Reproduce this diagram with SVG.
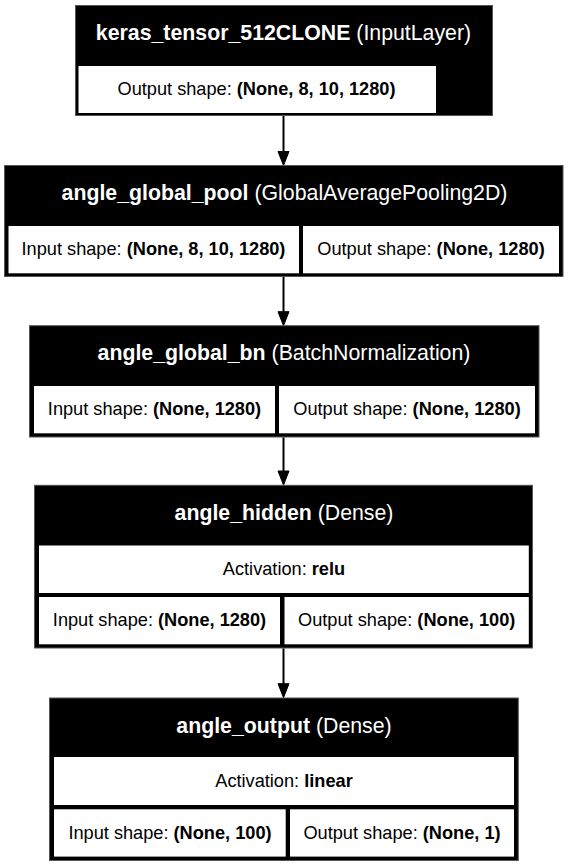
<svg xmlns="http://www.w3.org/2000/svg" width="568" height="867" viewBox="0 0 568 867">
<style>
.box{fill:#000;stroke:#555;stroke-width:1}
.cell{fill:#fff}
.title{font-family:"Liberation Sans",Arial,sans-serif;font-size:21.3px;fill:#fff;text-anchor:middle}
.body{font-family:"Liberation Sans",Arial,sans-serif;font-size:18.2px;fill:#000;text-anchor:middle}
.b{font-weight:bold}
.edge{stroke:#000;stroke-width:2;fill:none}
.head{fill:#000;stroke:#000;stroke-width:1}
</style>
<rect width="568" height="867" fill="#fff"/>
<g id="connectors">
<line class="edge" x1="283.5" y1="116" x2="283.5" y2="152"/>
<polygon class="head" points="278,151.5 289,151.5 283.5,165.5"/>
<line class="edge" x1="283.5" y1="277" x2="283.5" y2="312"/>
<polygon class="head" points="278,311.7 289,311.7 283.5,325.7"/>
<line class="edge" x1="283.5" y1="437.3" x2="283.5" y2="471.5"/>
<polygon class="head" points="278,471 289,471 283.5,485"/>
<line class="edge" x1="283.5" y1="648.3" x2="283.5" y2="684"/>
<polygon class="head" points="278,683.7 289,683.7 283.5,697.7"/>
</g>
<g id="node1">
<rect class="box" x="75.5" y="5.5" width="417" height="110"/>
<rect class="cell" x="78.5" y="66" width="357.5" height="47"/>
<text class="title" x="283.5" y="39.5"><tspan class="b">keras_tensor_512CLONE</tspan> (InputLayer)</text>
<text class="body" x="256.5" y="95">Output shape: <tspan class="b">(None, 8, 10, 1280)</tspan></text>
</g>
<g id="node2">
<rect class="box" x="4.5" y="165.5" width="558.5" height="111"/>
<rect class="cell" x="8.5" y="226" width="290.5" height="47.3"/>
<rect class="cell" x="303" y="226" width="256" height="47.3"/>
<text class="title" x="284.5" y="200"><tspan class="b">angle_global_pool</tspan> (GlobalAveragePooling2D)</text>
<text class="body" x="153.5" y="255.2">Input shape: <tspan class="b">(None, 8, 10, 1280)</tspan></text>
<text class="body" x="431" y="255.2">Output shape: <tspan class="b">(None, 1280)</tspan></text>
</g>
<g id="node3">
<rect class="box" x="29.5" y="325.7" width="509.5" height="111.3"/>
<rect class="cell" x="34" y="386" width="241" height="47.3"/>
<rect class="cell" x="279" y="386" width="256" height="47.3"/>
<text class="title" x="284" y="360.2"><tspan class="b">angle_global_bn</tspan> (BatchNormalization)</text>
<text class="body" x="154.5" y="415.2">Input shape: <tspan class="b">(None, 1280)</tspan></text>
<text class="body" x="407" y="415.2">Output shape: <tspan class="b">(None, 1280)</tspan></text>
</g>
<g id="node4">
<rect class="box" x="34.5" y="485.3" width="498" height="162.7"/>
<rect class="cell" x="39" y="545.5" width="489.8" height="47.5"/>
<rect class="cell" x="39" y="597" width="241" height="47.3"/>
<rect class="cell" x="284.5" y="597" width="244.3" height="47.3"/>
<text class="title" x="284" y="519.8"><tspan class="b">angle_hidden</tspan> (Dense)</text>
<text class="body" x="284" y="574.8">Activation: <tspan class="b">relu</tspan></text>
<text class="body" x="159.5" y="626.2">Input shape: <tspan class="b">(None, 1280)</tspan></text>
<text class="body" x="406.7" y="626.2">Output shape: <tspan class="b">(None, 100)</tspan></text>
</g>
<g id="node5">
<rect class="box" x="49.5" y="698" width="468.8" height="162.5"/>
<rect class="cell" x="54" y="757" width="460" height="48"/>
<rect class="cell" x="54" y="809.3" width="231.7" height="47.3"/>
<rect class="cell" x="290" y="809.3" width="224" height="47.3"/>
<text class="title" x="284" y="732.5"><tspan class="b">angle_output</tspan> (Dense)</text>
<text class="body" x="284" y="786.6">Activation: <tspan class="b">linear</tspan></text>
<text class="body" x="170" y="838.5">Input shape: <tspan class="b">(None, 100)</tspan></text>
<text class="body" x="402" y="838.5">Output shape: <tspan class="b">(None, 1)</tspan></text>
</g>
</svg>
